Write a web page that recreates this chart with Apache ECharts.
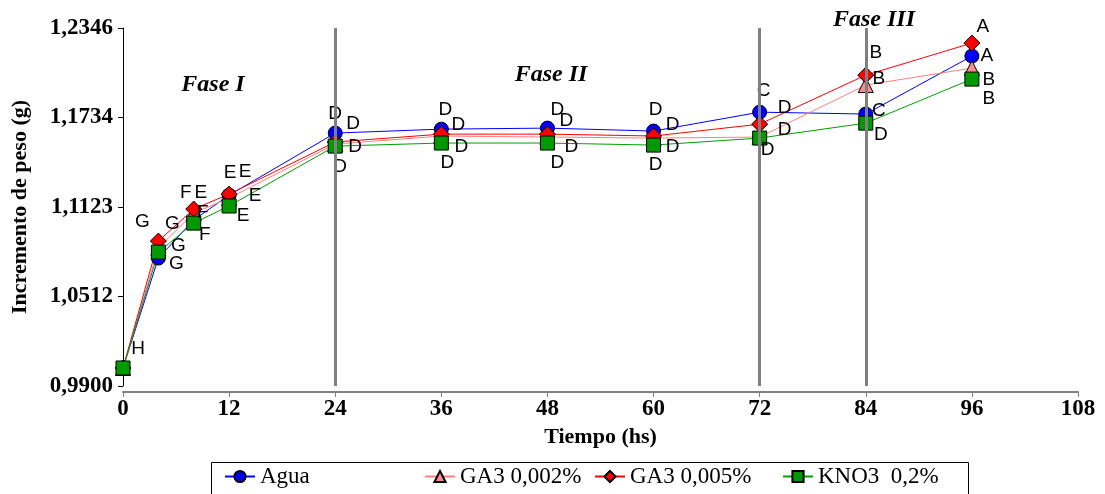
<!DOCTYPE html>
<html>
<head>
<meta charset="utf-8">
<script src="https://cdn.jsdelivr.net/npm/echarts@6/dist/echarts.min.js"></script>
<style>
  html, body { margin: 0; padding: 0; background: #fff; }
  #chart { width: 1105px; height: 494px; }
</style>
</head>
<body>
<div id="chart"></div>
<script>
// tiempo (hs)
const horas = [0, 4, 8, 12, 24, 36, 48, 60, 72, 84, 96];

// incremento de peso (g) por tratamiento
const agua = [1.0023, 1.0774, 1.1034, 1.1204, 1.1628, 1.1655, 1.1662, 1.1642, 1.1771, 1.1758, 1.2154];
const ga3_002 = [1.0023, 1.0843, 1.1082, 1.1184, 1.1553, 1.1608, 1.1601, 1.1594, 1.1601, 1.1956, 1.2072];
const ga3_005 = [1.0023, 1.0890, 1.1109, 1.1211, 1.1567, 1.1621, 1.1621, 1.1608, 1.1689, 1.2024, 1.2243];
const kno3 = [1.0023, 1.0815, 1.1013, 1.1130, 1.1539, 1.1560, 1.1560, 1.1546, 1.1594, 1.1696, 1.1997];

// letras de significancia
const letrasAgua = ['', 'G', 'E', 'E', 'D', 'D', 'D', 'D', 'C', 'C', 'A'];
const letras002 = ['', 'G', 'F', 'E', 'D', 'D', 'D', 'D', 'D', 'B', 'B'];
const letras005 = ['', 'G', 'F', 'E', 'D', 'D', 'D', 'D', 'D', 'B', 'A'];
const letrasKno3 = ['H', 'G', 'F', 'E', 'D', 'D', 'D', 'D', 'D', 'D', 'B'];

const nombres = ['Agua', 'GA3 0,002%', 'GA3 0,005%', 'KNO3  0,2%'];
const yTicks = ['0,9900', '1,0512', '1,1123', '1,1734', '1,2346'];
const fases = [24, 72, 84];

// desplazamiento de las letras respecto al marcador (px)
const offAgua = [[0, 0], [18, 6], [7, -27], [16, -23], [0, -19], [4, -19], [10, -18], [2, -21], [4, -21], [13, -3], [15, 0]];
const off002 = [[0, 0], [14, -24], [9, 0], [26, -2], [20, 3], [20, 11], [24, 10], [19, 9], [25, -7], [13, -6], [17, 12]];
const off005 = [[0, 0], [-16, -19], [-8, -16], [1, -21], [18, -18], [17, -9], [19, -13], [19, -11], [25, -16], [10, -22], [11, -16]];
const offKno3 = [[15, -19], [20, -6], [11, 12], [14, 10], [5, 21], [6, 20], [10, 20], [2, 20], [8, 12], [15, 12], [17, 20]];

// posicion horizontal de cada entrada de la leyenda
const legendLeft = [224, 424, 594, 782];

const serif = '"Liberation Serif", "Times New Roman", serif';

function serie(nombre, valores, letras, offs, color, lineColor, simbolo, size) {
  return {
    name: nombre,
    type: 'line',
    data: horas.map((h, i) => [h, valores[i]]),
    symbol: simbolo,
    symbolSize: size,
    z: 3,
    lineStyle: { color: lineColor, width: 1 },
    itemStyle: { color: color, borderColor: '#000', borderWidth: 1 },
    label: {
      show: true,
      position: 'inside',
      color: '#000',
      fontFamily: '"Liberation Sans", Arial, sans-serif',
      fontSize: 19,
      formatter: p => letras[p.dataIndex]
    },
    labelLayout: p => ({ dx: offs[p.dataIndex][0], dy: offs[p.dataIndex][1], hideOverlap: false }),
    emphasis: { disabled: true },
    animation: false
  };
}

const series = [
  serie(nombres[0], agua, letrasAgua, offAgua, '#0000ff', '#0000ff', 'circle', 14),
  serie(nombres[1], ga3_002, letras002, off002, '#ff8c8c', '#ff8080', 'triangle', 15),
  serie(nombres[2], ga3_005, letras005, off005, '#ff0000', '#ff0000', 'diamond', 16),
  serie(nombres[3], kno3, letrasKno3, offKno3, '#009900', '#00a000', 'rect', 14)
];

// lineas de separacion de fases
series.push({
  type: 'line',
  data: [],
  z: 1,
  markLine: {
    silent: true,
    symbol: 'none',
    label: { show: false },
    lineStyle: { color: '#808080', width: 3, type: 'solid' },
    data: fases.map(f => ({ xAxis: f }))
  }
});

const legends = nombres.map((n, i) => ({
  left: legendLeft[i],
  top: 465,
  itemWidth: 30,
  itemHeight: 14,
  padding: 0,
  textStyle: { fontFamily: serif, fontSize: 23, color: '#000' },
  data: [n]
}));

const chart = echarts.init(document.getElementById('chart'));
const option = {
  backgroundColor: '#fff',
  animation: false,
  grid: { left: 123, right: 27, top: 28, bottom: 108 },
  xAxis: {
    type: 'value',
    min: 0,
    max: 108,
    interval: 12,
    offset: 6,
    name: 'Tiempo (hs)',
    nameLocation: 'middle',
    nameGap: 34,
    nameTextStyle: { fontFamily: serif, fontWeight: 'bold', fontSize: 22, color: '#000' },
    axisLine: { lineStyle: { color: '#808080', width: 2 } },
    axisTick: { length: 5, lineStyle: { color: '#808080' } },
    axisLabel: { fontFamily: serif, fontWeight: 'bold', fontSize: 23, color: '#000', margin: 6 },
    splitLine: { show: false }
  },
  yAxis: {
    type: 'value',
    min: 0.99,
    max: 1.2346,
    interval: 0.06115,
    offset: 4,
    name: 'Incremento de peso (g)',
    nameLocation: 'middle',
    nameGap: 88,
    nameTextStyle: { fontFamily: serif, fontWeight: 'bold', fontSize: 22, color: '#000' },
    axisLine: { show: true, lineStyle: { color: '#000', width: 1 } },
    axisTick: { show: true, length: 5, lineStyle: { color: '#000' } },
    axisLabel: {
      fontFamily: serif, fontWeight: 'bold', fontSize: 23, color: '#000', margin: 6,
      formatter: (v, i) => yTicks[i] !== undefined ? yTicks[i] : ''
    },
    splitLine: { show: false }
  },
  legend: legends,
  graphic: [
    { type: 'rect', shape: { x: 211.5, y: 462.5, width: 757, height: 40 }, style: { fill: 'none', stroke: '#000', lineWidth: 1 }, z: 0 },
    { type: 'text', x: 213, y: 85, style: { text: 'Fase I', font: 'italic bold 24px ' + serif, fill: '#000', align: 'center', verticalAlign: 'middle' } },
    { type: 'text', x: 551, y: 75, style: { text: 'Fase II', font: 'italic bold 24px ' + serif, fill: '#000', align: 'center', verticalAlign: 'middle' } },
    { type: 'text', x: 874, y: 20, style: { text: 'Fase III', font: 'italic bold 24px ' + serif, fill: '#000', align: 'center', verticalAlign: 'middle' } }
  ],
  series: series
};
chart.setOption(option);
</script>
</body>
</html>
